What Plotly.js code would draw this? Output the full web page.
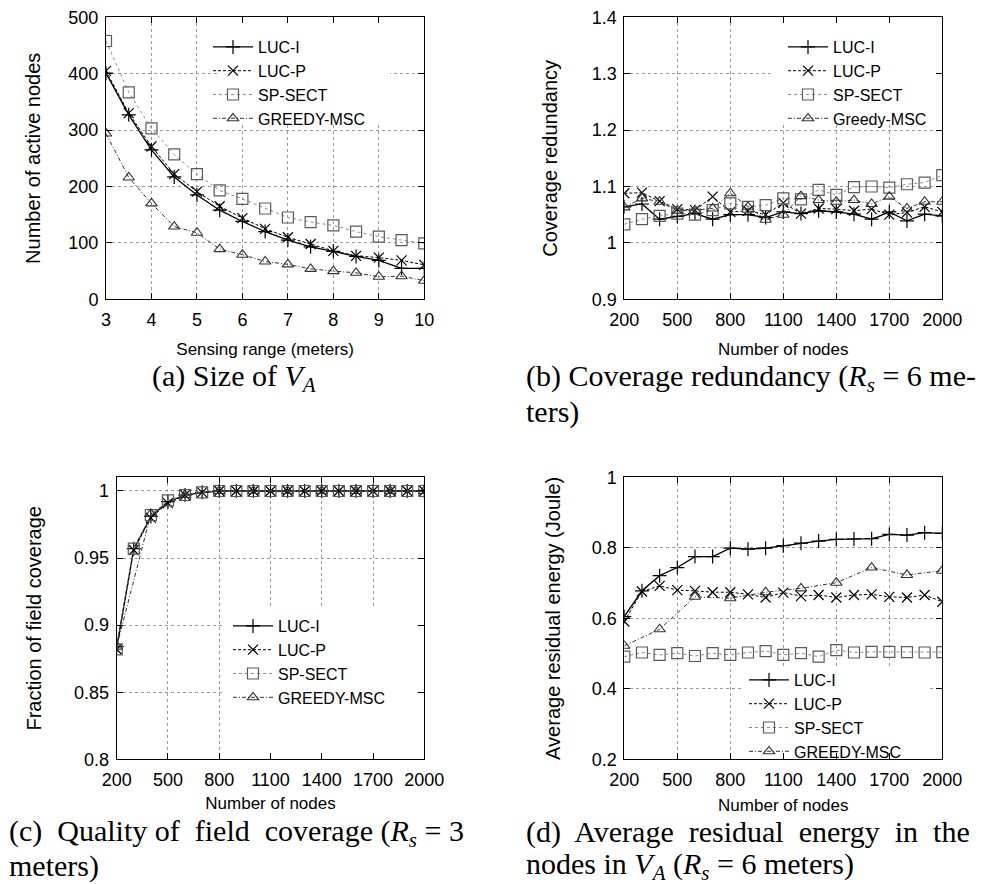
<!DOCTYPE html>
<html><head><meta charset="utf-8">
<script src="https://cdn.plot.ly/plotly-3.0.1.min.js"></script>
<style>html,body{margin:0;padding:0;background:#fff}#chart{width:983px;height:884px}</style>
</head><body><div id="chart"></div>
<script>
// ---- data ----
const sensingRange = [3,3.5,4,4.5,5,5.5,6,6.5,7,7.5,8,8.5,9,9.5,10];
const activeLucI   = [401,327,265,217,185,158,138,120,105,93,85,76,69,55,55];
const activeLucP   = [405,330,271,222,191,165,144,125,110,98,86,77,74,69,61];
const activeSpSect = [458,367,303,257,222,193,178,161,145,137,131,120,111,105,99];
const activeGreedy = [294,216,170,129,118,89,79,67,62,54,50,47,40,41,33];

const nodeCounts = [200,300,400,500,600,700,800,900,1000,1100,1200,1300,1400,1500,1600,1700,1800,1900,2000];
const nodeCountsEven = [200,400,600,800,1000,1200,1400,1600,1800,2000];
const nodeTicks = [200,500,800,1100,1400,1700,2000];

const redundLucI   = [1.064,1.069,1.042,1.047,1.052,1.042,1.050,1.050,1.045,1.055,1.052,1.057,1.055,1.051,1.042,1.055,1.039,1.051,1.048];
const redundLucP   = [1.088,1.089,1.074,1.060,1.058,1.082,1.055,1.057,1.050,1.071,1.052,1.061,1.060,1.057,1.060,1.050,1.054,1.064,1.055];
const redundSpSect = [1.033,1.042,1.048,1.052,1.050,1.058,1.070,1.064,1.067,1.079,1.077,1.094,1.085,1.099,1.100,1.098,1.104,1.107,1.120];
const redundGreedy = [1.063,1.079,1.073,1.057,1.058,1.061,1.088,1.064,1.041,1.050,1.083,1.076,1.073,1.076,1.069,1.082,1.061,1.073,1.073];

const coverLucI   = [0.884,0.957,0.981,0.992,0.997,0.999,1,1,1,1,1,1,1,1,1,1,1,1,1];
const coverLucP   = [0.882,0.956,0.980,0.991,0.997,0.999,1,1,1,1,1,1,1,1,1,1,1,1,1];
const coverSpSect = [0.882,0.957,0.982,0.993,0.997,0.999,1,1,1,1,1,1,1,1,1,1,1,1,1];
const coverGreedy = [0.884,0.983,0.997,1,1,1,1,1,1,1];

const energyLucI   = [0.605,0.678,0.721,0.744,0.775,0.775,0.799,0.796,0.799,0.806,0.813,0.819,0.824,0.825,0.826,0.838,0.836,0.843,0.841];
const energyLucP   = [0.591,0.676,0.692,0.680,0.678,0.674,0.674,0.668,0.659,0.673,0.663,0.666,0.659,0.666,0.668,0.661,0.659,0.666,0.647];
const energySpSect = [0.491,0.503,0.496,0.501,0.493,0.501,0.496,0.503,0.507,0.496,0.501,0.491,0.510,0.503,0.505,0.505,0.504,0.503,0.504];
const energyGreedy = [0.522,0.569,0.661,0.657,0.674,0.685,0.701,0.744,0.723,0.735];

const namesUpper = ['LUC-I','LUC-P','SP-SECT','GREEDY-MSC'];
const namesMixed = ['LUC-I','LUC-P','SP-SECT','Greedy-MSC'];

// ---- styles ----
const styles = [
  {line:{color:'#000',width:1.3,dash:'solid'}, marker:{symbol:'cross-thin-open',size:10,color:'#000',line:{width:1.2,color:'#000'}}},
  {line:{color:'#000',width:1,dash:'3px,2px'}, marker:{symbol:'x-thin-open',size:10,color:'#000',line:{width:1.2,color:'#000'}}},
  {line:{color:'#8a8a8a',width:1,dash:'dot'}, marker:{symbol:'square-open',size:11,color:'#5a5a5a',line:{width:1.2,color:'#5a5a5a'}}},
  {line:{color:'#333',width:1,dash:'4px,2px,1px,2px'}, marker:{symbol:'triangle-up-open',size:10,color:'#333',line:{width:1.1,color:'#333'}}}
];

const traces = [];
function addPanel(suffix, xsList, ysList, names){
  for(let i=0;i<4;i++){
    traces.push({
      type:'scatter', mode:'lines+markers',
      x: xsList[i], y: ysList[i], name: names[i],
      xaxis: 'x'+suffix, yaxis: 'y'+suffix,
      legend: 'legend'+suffix,
      line: styles[i].line, marker: styles[i].marker
    });
  }
}
addPanel('', [sensingRange,sensingRange,sensingRange,sensingRange],
  [activeLucI,activeLucP,activeSpSect,activeGreedy], namesUpper);
addPanel('2', [nodeCounts,nodeCounts,nodeCounts,nodeCounts],
  [redundLucI,redundLucP,redundSpSect,redundGreedy], namesMixed);
addPanel('3', [nodeCounts,nodeCounts,nodeCounts,nodeCountsEven],
  [coverLucI,coverLucP,coverSpSect,coverGreedy], namesUpper);
addPanel('4', [nodeCounts,nodeCounts,nodeCounts,nodeCountsEven],
  [energyLucI,energyLucP,energySpSect,energyGreedy], namesUpper);

// ---- layout ----
const W = 983, H = 884;
const px = v => v / W;
const py = v => 1 - v / H;
const sans = 'Liberation Sans, Arial, sans-serif';
const tickFont = {family:sans, size:18, color:'#000'};
const titleFont = {family:sans, size:17, color:'#000'};
const yTitleFont = {family:sans, size:20, color:'#000'};

function axisBase(){
  return {showline:true, linecolor:'#000', linewidth:1, mirror:'ticks',
    ticks:'inside', ticklen:6, tickcolor:'#000', tickwidth:1,
    showgrid:true, gridcolor:'#9a9a9a', griddash:'dot', gridwidth:1,
    zeroline:false, tickfont:tickFont, fixedrange:true};
}
function xAxis(domain, range, anchor, title, standoff, extra){
  return Object.assign(axisBase(), {domain, range, anchor, ticklabelstandoff:4,
    title:{text:title, font:titleFont, standoff:standoff}}, extra);
}
function yAxis(domain, range, anchor, title, dtick, standoff){
  return Object.assign(axisBase(), {domain, range, anchor, dtick, tick0:range[0], ticklabelstandoff:3,
    title:{text:title, font:yTitleFont, standoff:standoff}});
}
const nodeTickCfg = {tickmode:'array', tickvals:nodeTicks, ticktext:nodeTicks.map(String)};

// panel pixel frames [left, right, top, bottom]
const frameA = [106, 424.3, 17.3, 299.3];
const frameB = [624.3, 942.3, 17.3, 299.3];
const frameC = [116.7, 424.3, 477.3, 759.3];
const frameD = [624.3, 942.3, 477.3, 759.3];
const rangeXA = [3,10], rangeYA = [0,500];
const rangeXN = [200,2000];
const rangeYB = [0.9,1.4], rangeYC = [0.8,1.0102], rangeYD = [0.2,1];
const xdom = f => [px(f[0]), px(f[1])];
const ydom = f => [py(f[3]), py(f[2])];

function legendAt(xpx, ypx){
  return {x:px(xpx), y:py(ypx), xanchor:'left', yanchor:'top', bgcolor:'rgba(255,255,255,0)',
    borderwidth:0, font:{family:sans, size:16, color:'#000'},
    itemwidth:40, tracegroupgap:0};
}
// white box behind each legend that hides the grid but not the data (as gnuplot does)
function legendBack(suffix, f, xr, yr, x0, x1, y0, y1){
  const w = f[1]-f[0], h = f[3]-f[2];
  const cx = p => xr[0] + (p - f[0]) / w * (xr[1]-xr[0]);
  const cy = p => yr[0] + (f[3] - p) / h * (yr[1]-yr[0]);
  return {type:'rect', layer:'between', xref:'x'+suffix, yref:'y'+suffix,
    x0:cx(x0), x1:cx(x1), y0:cy(y1), y1:cy(y0),
    fillcolor:'#fff', line:{width:0}};
}

const serif = {family:'Liberation Serif, Times New Roman, serif', size:30, color:'#000'};
function cap(text, xpx, ypx, anchor){
  return {text, xref:'paper', yref:'paper', x:px(xpx), y:py(ypx), xanchor:anchor, yanchor:'middle',
    showarrow:false, font:serif, borderpad:0};
}
const nb = '\u00A0';

const layout = {
  width:W, height:H, margin:{l:0,r:0,t:0,b:0},
  paper_bgcolor:'#fff', plot_bgcolor:'#fff', showlegend:true,
  xaxis: xAxis(xdom(frameA), rangeXA, 'y', 'Sensing range (meters)', 14, {dtick:1, tick0:3}),
  yaxis: yAxis(ydom(frameA), rangeYA, 'x', 'Number of active nodes', 100, 22),
  xaxis2: xAxis(xdom(frameB), rangeXN, 'y2', 'Number of nodes', 14, nodeTickCfg),
  yaxis2: yAxis(ydom(frameB), rangeYB, 'x2', 'Coverage redundancy', 0.1, 28),
  xaxis3: xAxis(xdom(frameC), rangeXN, 'y3', 'Number of nodes', 8, nodeTickCfg),
  yaxis3: yAxis(ydom(frameC), rangeYC, 'x3', 'Fraction of field coverage', 0.05, 27),
  xaxis4: xAxis(xdom(frameD), rangeXN, 'y4', 'Number of nodes', 10, nodeTickCfg),
  yaxis4: yAxis(ydom(frameD), rangeYD, 'x4', 'Average residual energy (Joule)', 0.2, 25),
  legend: legendAt(208, 30),
  legend2: legendAt(783, 30),
  legend3: legendAt(228, 609),
  legend4: legendAt(744, 663),
  shapes: [
    legendBack('', frameA, rangeXA, rangeYA, 217, 390, 17.3, 125),
    legendBack('2', frameB, rangeXN, rangeYB, 773, 942.3, 17.3, 125),
    legendBack('3', frameC, rangeXN, rangeYC, 224, 415, 608, 759.3),
    legendBack('4', frameD, rangeXN, rangeYD, 742, 930, 668, 759.3)
  ],
  annotations: [
    cap('(a) Size of <i>V<sub>A</sub></i>', 234, 378, 'center'),
    cap('(b) Coverage redundancy (<i>R<sub>s</sub></i> = 6 me-', 525, 378, 'left'),
    cap('ters)', 525, 412, 'left'),
    cap('(c)'+nb+' Quality of'+nb+' field'+nb+' coverage (<i>R<sub>s</sub></i> = 3', 8, 833, 'left'),
    cap('meters)', 8, 866, 'left'),
    cap('(d)'+nb+' Average'+nb+' residual'+nb+' energy'+nb+' in'+nb+' the', 525, 832, 'left'),
    cap('nodes in <i>V<sub>A</sub></i> (<i>R<sub>s</sub></i> = 6 meters)', 525, 866, 'left')
  ]
};

Plotly.newPlot('chart', traces, layout, {displayModeBar:false, staticPlot:true});
</script>
</body></html>
